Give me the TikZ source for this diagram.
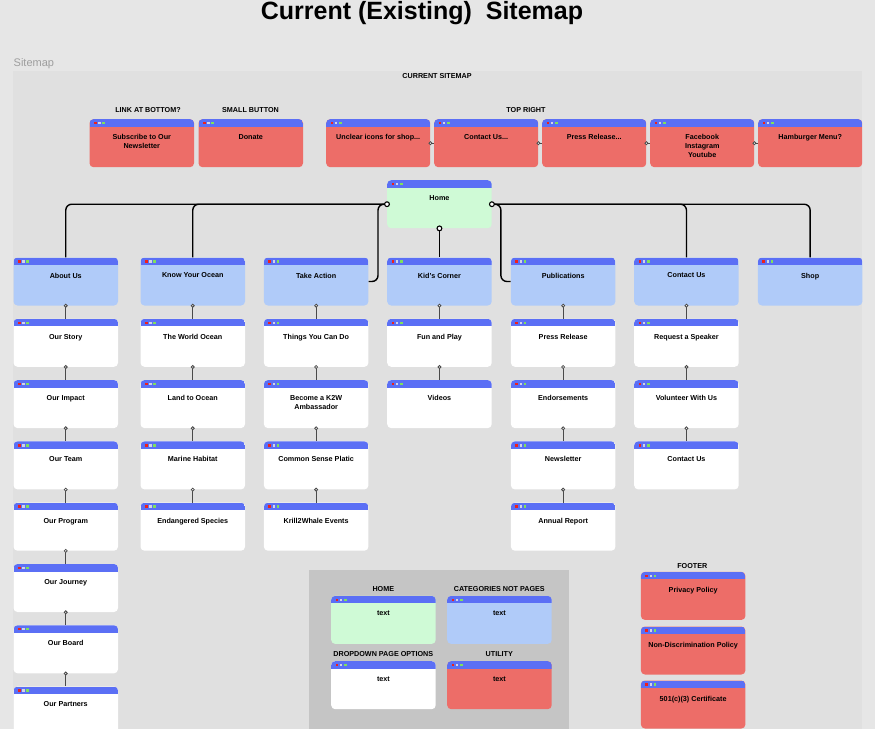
\documentclass[tikz,border=0pt]{standalone}
\usepackage{fontspec}
\setmainfont{Liberation Sans}
\begin{document}
\definecolor{pagebg}{HTML}{E6E6E6}
\definecolor{framebg}{HTML}{E0E0E0}
\definecolor{legendbg}{HTML}{C5C5C5}
\definecolor{hdr}{HTML}{5B6FF5}
\definecolor{util}{HTML}{ED6D68}
\definecolor{categ}{HTML}{B0CBF9}
\definecolor{homec}{HTML}{CFFAD6}
\definecolor{dotred}{HTML}{F0201A}
\definecolor{dotgray}{HTML}{D2D4E6}
\definecolor{dotgreen}{HTML}{7FE15C}
\definecolor{wire}{HTML}{4A4A4A}
\newcommand{\boxfont}{\fontsize{7.2}{9}\selectfont\bfseries}
\tikzset{
  page/.style={rounded corners=4pt, minimum width=104.5pt, minimum height=48pt,
    inner sep=0pt, anchor=north west, fill=#1,
    path picture={
      \fill[hdr, sharp corners] (path picture bounding box.north west)
        rectangle ([yshift=-7.5pt]path picture bounding box.north east);
      \fill[dotred, sharp corners] ([xshift=4.5pt,yshift=-2.7pt]path picture bounding box.north west) rectangle ++(2.5pt,-2.4pt);
      \fill[dotgray, sharp corners] ([xshift=8.7pt,yshift=-2.7pt]path picture bounding box.north west) rectangle ++(2.5pt,-2.4pt);
      \fill[dotgreen, sharp corners] ([xshift=12.9pt,yshift=-2.7pt]path picture bounding box.north west) rectangle ++(2.5pt,-2.4pt);
    }},
  title/.style={anchor=north, yshift=-15.3pt, font=\boxfont, align=center, inner sep=0pt},
  section/.style={font=\boxfont, inner sep=0pt},
  mainwire/.style={draw=black, line width=1.4pt, rounded corners=6pt},
  subwire/.style={draw=wire, line width=1.1pt},
  bigring/.style={draw=black, fill=white, line width=1.1pt},
  smallring/.style={draw=wire, fill=white, line width=0.8pt},
}
\begin{tikzpicture}[x=1pt, y=-1pt]
\useasboundingbox (0,0) rectangle (875,729);
% backgrounds
\fill[pagebg] (0,0) rectangle (875,729);
\fill[framebg] (13.3,71) rectangle (862,729);

% headings
\node[anchor=base, font=\fontsize{25}{28}\selectfont\bfseries] (heading) at (422,19) {Current (Existing)\ \ Sitemap};
\node[anchor=west, font=\fontsize{11}{13}\selectfont, text=black!38, inner sep=0pt] (frametag) at (13.5,64) {Sitemap};
\node[section] (cursm) at (437,76) {CURRENT SITEMAP};
\node[section] (lab1) at (148,110) {LINK AT BOTTOM?};
\node[section] (lab2) at (250.5,110) {SMALL BUTTON};
\node[section] (lab3) at (526,110) {TOP RIGHT};

% top row of utility links
\node[page=util, label={[title]north:Subscribe to Our\\Newsletter}] (subs) at (89.3,119) {};
\node[page=util, label={[title]north:Donate}] (donate) at (198.3,119) {};
\node[page=util, minimum width=104pt, label={[title]north:Unclear icons for shop...}] (tr1) at (326,119) {};
\node[page=util, minimum width=104pt, label={[title]north:Contact Us...}] (tr2) at (434,119) {};
\node[page=util, minimum width=104pt, label={[title]north:Press Release...}] (tr3) at (542,119) {};
\node[page=util, minimum width=104pt, label={[title]north:Facebook\\Instagram\\Youtube}] (tr4) at (650,119) {};
\node[page=util, minimum width=104pt, label={[title]north:Hamburger Menu?}] (tr5) at (758,119) {};
\foreach \a/\b in {tr1/tr2, tr2/tr3, tr3/tr4, tr4/tr5}{
  \draw[subwire, line width=0.8pt] (\a.east) -- (\b.west);
  \draw[smallring] (\a.east) circle (1.5pt);
}

% home and categories
\node[page=homec, label={[title]north:Home}] (home) at (387,180) {};
\node[page=categ, label={[title]north:About Us}] (about) at (13.3,257.3) {};
\node[page=categ, label={[title]north:Know Your Ocean}] (ocean) at (140.3,257.3) {};
\node[page=categ, label={[title]north:Take Action}] (action) at (263.7,257.3) {};
\node[page=categ, label={[title]north:Kid's Corner}] (kids) at (387,257.3) {};
\node[page=categ, label={[title]north:Publications}] (pubs) at (510.7,257.3) {};
\node[page=categ, label={[title]north:Contact Us}] (contact) at (634,257.3) {};
\node[page=categ, label={[title]north:Shop}] (shop) at (757.7,257.3) {};

\draw[mainwire] (home.west) -| (about.north);
\draw[mainwire] (home.west) -| (ocean.north);
\draw[mainwire] (home.west) -- ++(-9,0) |- (action.east);
\draw[mainwire] (home.south) -- (kids.north);
\draw[mainwire] (home.east) -- ++(9,0) |- (pubs.west);
\draw[mainwire] (home.east) -| (contact.north);
\draw[mainwire] (home.east) -| (shop.north);
\draw[bigring] (home.west) circle (2.4pt);
\draw[bigring] (home.east) circle (2.4pt);
\draw[bigring] (home.south) circle (2.4pt);

% dropdown pages, column by column
\foreach \col/\x/\parent/\items in {
  a/13.3/about/{Our Story,Our Impact,Our Team,Our Program,Our Journey,Our Board,Our Partners},
  b/140.3/ocean/{The World Ocean,Land to Ocean,Marine Habitat,Endangered Species},
  c/263.7/action/{Things You Can Do,{Become a K2W\\Ambassador},Common Sense Platic,Krill2Whale Events},
  d/387/kids/{Fun and Play,Videos},
  e/510.7/pubs/{Press Release,Endorsements,Newsletter,Annual Report},
  f/634/contact/{Request a Speaker,Volunteer With Us,Contact Us}}{
  \foreach \txt [count=\i] in \items {
    \pgfmathsetmacro{\ytop}{257.3+61.3*\i}
    \node[page=white, label={[title]north:\txt}] (\col\i) at (\x,\ytop) {};
  }
}
\foreach \a/\b in {about/a1,a1/a2,a2/a3,a3/a4,a4/a5,a5/a6,a6/a7,
                   ocean/b1,b1/b2,b2/b3,b3/b4,
                   action/c1,c1/c2,c2/c3,c3/c4,
                   kids/d1,d1/d2,
                   pubs/e1,e1/e2,e2/e3,e3/e4,
                   contact/f1,f1/f2,f2/f3}{
  \draw[subwire] (\a.south) -- (\b.north);
  \draw[smallring] (\a.south) circle (1.5pt);
}

% legend
\fill[legendbg] (309.3,570) rectangle (569.3,729);
\node[section] (lgh) at (383.3,588.7) {HOME};
\node[section] (lgc) at (499.3,588.7) {CATEGORIES NOT PAGES};
\node[section] (lgd) at (383.3,654) {DROPDOWN PAGE OPTIONS};
\node[section] (lgu) at (499.3,654) {UTILITY};
\node[page=homec, label={[title]north:text}] (kh) at (331,595.7) {};
\node[page=categ, label={[title]north:text}] (kc) at (447,595.7) {};
\node[page=white, label={[title]north:text}] (kd) at (331,661) {};
\node[page=util, label={[title]north:text}] (ku) at (447,661) {};

% footer
\node[section] (foot) at (692.3,565.7) {FOOTER};
\node[page=util, label={[title]north:Privacy Policy}] (ft1) at (640.7,571.7) {};
\node[page=util, label={[title]north:Non-Discrimination Policy}] (ft2) at (640.7,626.3) {};
\node[page=util, label={[title]north:501(c)(3) Certificate}] (ft3) at (640.7,680.3) {};
\end{tikzpicture}
\end{document}
